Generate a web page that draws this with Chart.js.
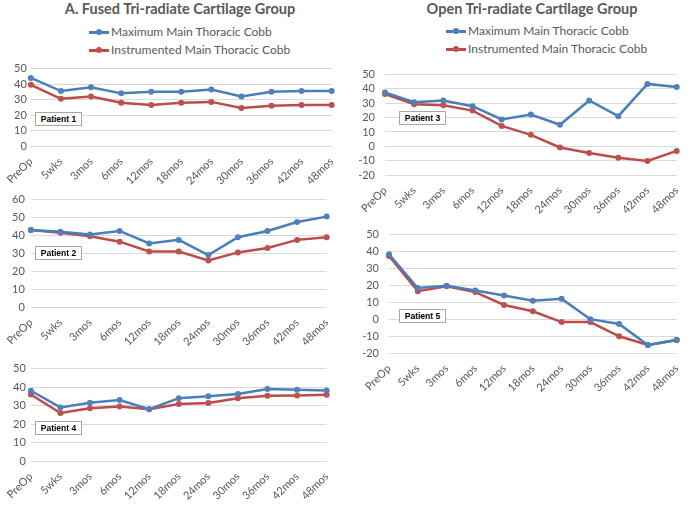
<!DOCTYPE html>
<html>
<head>
<meta charset="utf-8">
<script src="https://cdn.jsdelivr.net/npm/chart.js@4"></script>
<style>
  body { margin: 0; background: #fff; width: 695px; height: 505px; overflow: hidden; position: relative; font-family: Lato, "Open Sans", sans-serif; }
  canvas { position: absolute; }
  .title { position: absolute; top: 0px; font-weight: bold; font-size: 14.5px; color: #595959; white-space: nowrap; transform: translateX(-50%); }
  .legend { position: absolute; font-size: 12px; color: #595959; white-space: nowrap; height: 16px; line-height: 16px; }
  .legend .ln { position: absolute; left: 0; top: 7px; width: 20px; height: 2.5px; }
  .legend .dot { position: absolute; left: 7px; top: 5px; width: 6px; height: 6px; border-radius: 50%; }
  .legend .tx { position: absolute; left: 22px; top: 0; }
  .patient { position: absolute; width: 45px; height: 12px; border: 1px solid #a6a6a6; background: #fff; font: bold 8.5px "Liberation Sans", Arial, sans-serif; color: #000; text-align: center; line-height: 12px; }
</style>
</head>
<body>
<div class="title" style="left:180px">A. Fused Tri-radiate Cartilage Group</div>
<div class="title" style="left:532px">Open Tri-radiate Cartilage Group</div>

<div class="legend" style="left:89px;top:24px"><span class="ln" style="background:#4A7EBB"></span><span class="dot" style="background:#4F81BD"></span><span class="tx">Maximum Main Thoracic Cobb</span></div>
<div class="legend" style="left:89px;top:42px"><span class="ln" style="background:#BE4B48"></span><span class="dot" style="background:#C0504D"></span><span class="tx">Instrumented Main Thoracic Cobb</span></div>
<div class="legend" style="left:446px;top:23px"><span class="ln" style="background:#4A7EBB"></span><span class="dot" style="background:#4F81BD"></span><span class="tx">Maximum Main Thoracic Cobb</span></div>
<div class="legend" style="left:446px;top:41px"><span class="ln" style="background:#BE4B48"></span><span class="dot" style="background:#C0504D"></span><span class="tx">Instrumented Main Thoracic Cobb</span></div>

<canvas id="p1" width="350" height="132" style="left:0;top:58px"></canvas>
<canvas id="p2" width="345" height="162" style="left:0;top:187px"></canvas>
<canvas id="p4" width="345" height="148" style="left:0;top:357px"></canvas>
<canvas id="p3" width="345" height="160" style="left:350px;top:58px"></canvas>
<canvas id="p5" width="345" height="180" style="left:350px;top:218px"></canvas>

<div class="patient" style="left:35px;top:112px">Patient 1</div>
<div class="patient" style="left:35px;top:246px">Patient 2</div>
<div class="patient" style="left:35px;top:421px">Patient 4</div>
<div class="patient" style="left:399px;top:111px">Patient 3</div>
<div class="patient" style="left:399px;top:309px">Patient 5</div>

<script>
const timepoints = ['PreOp', '5wks', '3mos', '6mos', '12mos', '18mos', '24mos', '30mos', '36mos', '42mos', '48mos'];

// fused group
const p1Max  = [44, 35.5, 38, 34, 35, 35, 36.5, 32, 35, 35.5, 35.5];
const p1Inst = [39.5, 30.5, 32, 28, 26.5, 28, 28.5, 24.5, 26, 26.5, 26.5];
const p2Max  = [43, 42, 40.5, 42.5, 35.5, 37.5, 29, 39, 42.5, 47.5, 50.5];
const p2Inst = [43, 41.5, 39.5, 36.5, 31, 31, 26, 30.5, 33, 37.5, 39];
const p4Max  = [38, 29, 31.5, 33, 28, 34, 35, 36.2, 39, 38.5, 38.2];
const p4Inst = [36, 26, 28.5, 29.5, 28, 30.8, 31.4, 34, 35.3, 35.5, 35.8];

// open group
const p3Max  = [37.5, 30.8, 32, 28, 18.7, 22.2, 15, 32, 21, 43.5, 41.3];
const p3Inst = [36.5, 29.3, 28.6, 24.9, 14.2, 8, -0.8, -4.7, -8, -10.2, -3.2];
const p5Max  = [38.4, 18.4, 19.7, 16.9, 14, 10.9, 12, 0, -2.8, -15.3, -12.2];
const p5Inst = [37.3, 16.5, 19.5, 16, 8.4, 4.7, -1.7, -1.7, -10.1, -15.3, -12.4];

const textColor = '#595959';
const gridColor = '#d9d9d9';

function makeChart(id, maxData, instData, yMin, yMax, box) {
    const ctx = document.getElementById(id).getContext('2d');
    return new Chart(ctx, {
        type: 'line',
        data: {
            labels: timepoints,
            datasets: [
                {
                    label: 'Maximum Main Thoracic Cobb',
                    data: maxData,
                    borderColor: '#4A7EBB',
                    backgroundColor: '#4F81BD',
                    borderWidth: 2.5,
                    pointRadius: 3,
                    pointBorderWidth: 0,
                    tension: 0,
                },
                {
                    label: 'Instrumented Main Thoracic Cobb',
                    data: instData,
                    borderColor: '#BE4B48',
                    backgroundColor: '#C0504D',
                    borderWidth: 2.5,
                    pointRadius: 3,
                    pointBorderWidth: 0,
                    tension: 0,
                },
            ],
        },
        options: {
            responsive: false,
            animation: false,
            layout: { padding: { top: box.padTop, right: box.padRight, left: 0, bottom: 0 } },
            plugins: { legend: { display: false }, tooltip: { enabled: false } },
            scales: {
                x: {
                    offset: false,
                    grid: { display: false, drawTicks: false },
                    border: { display: false },
                    ticks: {
                        autoSkip: false,
                        maxRotation: 45,
                        minRotation: 45,
                        padding: 9,
                        color: textColor,
                        font: { family: 'Lato', size: 11 },
                    },
                    afterFit: (scale) => { scale.height = box.xHeight; },
                },
                y: {
                    min: yMin,
                    max: yMax,
                    grid: { color: gridColor, drawTicks: false, lineWidth: 1 },
                    border: { display: false },
                    ticks: {
                        stepSize: 10,
                        autoSkip: false,
                        padding: box.tickPad,
                        color: textColor,
                        font: { family: 'Lato', size: 11 },
                    },
                    afterFit: (scale) => { scale.width = box.yWidth; },
                },
            },
        },
    });
}

makeChart('p1', p1Max, p1Inst, 0, 50, { padTop: 10, padRight: 4, yWidth: 24, xHeight: 44, tickPad: 4 });
makeChart('p2', p2Max, p2Inst, 0, 60, { padTop: 10, padRight: 6, yWidth: 23, xHeight: 42, tickPad: 6 });
makeChart('p4', p4Max, p4Inst, 0, 50, { padTop: 10, padRight: 6, yWidth: 29, xHeight: 44, tickPad: 5 });
makeChart('p3', p3Max, p3Inst, -20, 50, { padTop: 10, padRight: 4, yWidth: 35, xHeight: 43, tickPad: 10 });
makeChart('p5', p5Max, p5Inst, -20, 50, { padTop: 10, padRight: 3, yWidth: 39, xHeight: 45, tickPad: 10 });
</script>
</body>
</html>
